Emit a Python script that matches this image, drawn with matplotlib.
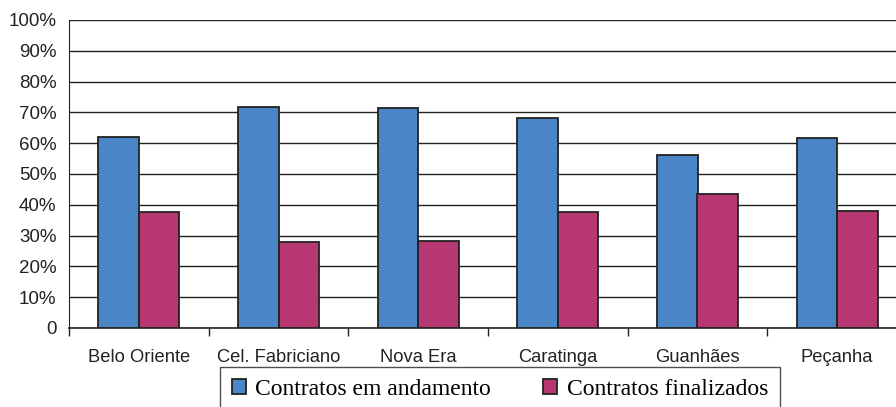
import matplotlib.pyplot as plt
import numpy as np
from matplotlib.ticker import FuncFormatter, MultipleLocator

# Dados (% de contratos)
cidades = ["Belo Oriente", "Cel. Fabriciano", "Nova Era", "Caratinga", "Guanhães", "Peçanha"]
em_andamento = [62.0, 71.8, 71.5, 68.3, 56.1, 61.7]
finalizados = [37.7, 27.8, 28.2, 37.7, 43.4, 37.9]

cor_azul = "#4A86C6"
cor_magenta = "#B63772"

plt.rcParams["font.family"] = "Liberation Sans"

fig = plt.figure(figsize=(8.96, 4.07), dpi=100)
ax = fig.add_axes([69 / 896, 1 - 328 / 407, 838 / 896, 308 / 407])

x = np.arange(len(cidades))
w = 0.29
ax.bar(x - w / 2, em_andamento, w, color=cor_azul, edgecolor="#222222", linewidth=1.3,
       label="Contratos em andamento", zorder=3)
ax.bar(x + w / 2, finalizados, w, color=cor_magenta, edgecolor="#222222", linewidth=1.3,
       label="Contratos finalizados", zorder=3)

ax.set_xlim(-0.5, len(cidades) - 0.5)
ax.set_ylim(0, 100)
ax.yaxis.set_major_locator(MultipleLocator(10))
ax.yaxis.set_major_formatter(FuncFormatter(lambda v, p: "0" if v == 0 else f"{v:.0f}%"))
ax.grid(axis="y", color="#222222", linewidth=1.0, zorder=0)

ax.set_xticks(x)
ax.set_xticklabels(cidades)
ax.set_xticks(np.arange(-0.5, len(cidades), 1), minor=True)
ax.tick_params(axis="x", which="major", length=0, labelsize=13.2, pad=15, colors="#222222")
ax.tick_params(axis="x", which="minor", length=6, width=1, color="#222222")
ax.tick_params(axis="y", length=0, labelsize=13.5, pad=9, colors="#222222")

for s in ["top", "right"]:
    ax.spines[s].set_visible(False)
ax.spines["left"].set_color("#222222")
ax.spines["bottom"].set_color("#222222")
ax.spines["bottom"].set_linewidth(1.2)

leg = fig.legend(loc="upper center", bbox_to_anchor=(500 / 896, 1 - 367 / 407), ncol=2,
                 prop={"family": "Liberation Serif", "size": 17}, frameon=True, fancybox=False,
                 edgecolor="#222222", handlelength=0.6, handleheight=0.6, handletextpad=0.4,
                 columnspacing=2.2, borderpad=0.5, borderaxespad=0)
leg.get_frame().set_linewidth(1.0)

fig.savefig("out.png", dpi=100)
